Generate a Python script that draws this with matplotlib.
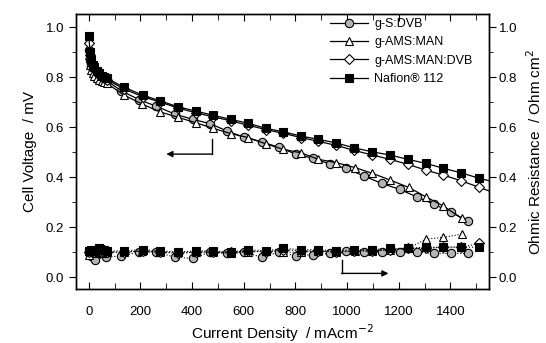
import matplotlib
matplotlib.use("Agg")
import matplotlib.pyplot as plt
from matplotlib.ticker import MultipleLocator

plt.rcParams['font.family'] = ['Liberation Sans', 'DejaVu Sans']

# ---- polarisation curves (cell voltage) ----
low_i = [0, 5, 10, 15, 20, 30, 40, 50, 60, 70]

nafion_i = low_i + [137, 208, 276, 346, 415, 482, 550, 618, 686, 753, 822, 889, 957,
                    1027, 1098, 1167, 1235, 1305, 1373, 1442, 1512, 1580]
nafion_v = [0.965, 0.90, 0.87, 0.85, 0.84, 0.825, 0.815, 0.805, 0.80, 0.795,
            0.759, 0.728, 0.705, 0.681, 0.664, 0.647, 0.631, 0.615, 0.595, 0.581,
            0.564, 0.551, 0.537, 0.517, 0.501, 0.488, 0.471, 0.455, 0.435, 0.417,
            0.395, 0.378]

amsmandvb_i = low_i + [137, 208, 276, 346, 415, 482, 550, 618, 686, 753, 822, 889, 957,
                       1027, 1098, 1167, 1235, 1305, 1373, 1442, 1512, 1580]
amsmandvb_v = [0.935, 0.89, 0.86, 0.845, 0.835, 0.82, 0.81, 0.80, 0.795, 0.79,
               0.752, 0.722, 0.70, 0.676, 0.657, 0.641, 0.625, 0.607, 0.590, 0.575,
               0.558, 0.543, 0.527, 0.507, 0.488, 0.471, 0.451, 0.428, 0.408, 0.385,
               0.359, 0.333]

sdvb_i = low_i + [126, 194, 262, 333, 402, 469, 536, 602, 669, 736, 802, 869, 934,
                  996, 1066, 1134, 1203, 1270, 1338, 1403, 1466]
sdvb_v = [0.91, 0.87, 0.85, 0.83, 0.82, 0.81, 0.80, 0.795, 0.79, 0.785,
          0.745, 0.71, 0.683, 0.652, 0.631, 0.614, 0.584, 0.559, 0.541, 0.519,
          0.492, 0.475, 0.452, 0.435, 0.404, 0.375, 0.351, 0.321, 0.291, 0.259,
          0.225]

amsman_i = low_i + [136, 207, 275, 346, 415, 482, 549, 617, 685, 753, 822, 889, 957,
                    1031, 1098, 1167, 1238, 1305, 1373, 1444]
amsman_v = [0.89, 0.85, 0.83, 0.815, 0.805, 0.795, 0.79, 0.785, 0.78, 0.775,
            0.728, 0.692, 0.661, 0.639, 0.617, 0.595, 0.574, 0.558, 0.533, 0.511,
            0.497, 0.471, 0.458, 0.438, 0.415, 0.388, 0.359, 0.321, 0.284, 0.235]

# ---- ohmic resistance ----
nafion_r_i = [0, 10, 20, 30, 40, 50, 60, 70, 137, 208, 276, 346, 415, 482, 550, 618,
              686, 753, 822, 889, 957, 1027, 1098, 1167, 1235, 1305, 1373, 1442, 1512]
nafion_r = [0.105, 0.11, 0.105, 0.11, 0.115, 0.11, 0.11, 0.105, 0.105, 0.11, 0.105,
            0.10, 0.105, 0.105, 0.10, 0.11, 0.105, 0.115, 0.11, 0.11, 0.105, 0.11,
            0.11, 0.115, 0.115, 0.12, 0.12, 0.12, 0.12]

amsmandvb_r_i = [0, 10, 20, 30, 40, 50, 60, 70, 137, 208, 276, 346, 415, 482, 550, 618,
                 686, 753, 822, 889, 957, 1027, 1098, 1167, 1235, 1305, 1373, 1442, 1512]
amsmandvb_r = [0.10, 0.105, 0.10, 0.105, 0.11, 0.105, 0.11, 0.10, 0.10, 0.105, 0.10,
               0.095, 0.10, 0.10, 0.10, 0.105, 0.10, 0.11, 0.105, 0.105, 0.10, 0.105,
               0.105, 0.11, 0.115, 0.115, 0.12, 0.12, 0.135]

sdvb_r_i = [0, 5, 10, 23, 66, 126, 194, 262, 333, 402, 469, 536, 602, 669, 736, 802,
            869, 934, 996, 1066, 1134, 1203, 1270, 1338, 1403, 1466]
sdvb_r = [0.10, 0.09, 0.085, 0.07, 0.08, 0.085, 0.10, 0.10, 0.08, 0.075, 0.10, 0.095,
          0.10, 0.08, 0.10, 0.085, 0.09, 0.095, 0.104, 0.10, 0.10, 0.10, 0.10, 0.095,
          0.095, 0.095]

amsman_r_i = [0, 10, 20, 30, 40, 50, 60, 70, 136, 207, 275, 346, 415, 482, 549, 617,
              685, 753, 822, 889, 957, 1031, 1098, 1167, 1238, 1305, 1373, 1444]
amsman_r = [0.09, 0.10, 0.10, 0.095, 0.10, 0.10, 0.095, 0.10, 0.10, 0.105, 0.10,
            0.10, 0.10, 0.10, 0.095, 0.10, 0.105, 0.10, 0.10, 0.105, 0.10, 0.105,
            0.105, 0.11, 0.115, 0.152, 0.159, 0.172]

labels = ["g-S:DVB", "g-AMS:MAN", "g-AMS:MAN:DVB", "Nafion\u00ae 112"]

fig = plt.figure(figsize=(5.46, 3.43), dpi=100)
ax = fig.add_axes([0.139, 0.157, 0.757, 0.802])

ms = 6
styles = [
    dict(marker='o', mfc='#b4b4b4', mec='black', ms=ms, mew=0.8),
    dict(marker='^', mfc='white', mec='black', ms=ms, mew=0.8),
    dict(marker='D', mfc='white', mec='black', ms=ms - 0.8, mew=0.8),
    dict(marker='s', mfc='black', mec='black', ms=ms, mew=0.8),
]
volt = [(sdvb_i, sdvb_v), (amsman_i, amsman_v), (amsmandvb_i, amsmandvb_v),
        (nafion_i, nafion_v)]
res = [(sdvb_r_i, sdvb_r), (amsman_r_i, amsman_r), (amsmandvb_r_i, amsmandvb_r),
       (nafion_r_i, nafion_r)]

handles = []
for (xi, yv), st, lab in zip(volt, styles, labels):
    h, = ax.plot(xi, yv, color='black', lw=0.9, label=lab, **st)
    handles.append(h)
for (xi, yr), st in zip(res, styles):
    ax.plot(xi, yr, color='black', lw=0.8, ls=':', **st)

ax.set_xlim(-50, 1550)
ax.set_ylim(-0.048, 1.052)

ax.xaxis.set_major_locator(MultipleLocator(200))
ax.xaxis.set_minor_locator(MultipleLocator(100))
ax.yaxis.set_major_locator(MultipleLocator(0.2))
ax.yaxis.set_minor_locator(MultipleLocator(0.1))
ax.yaxis.set_major_formatter(plt.FuncFormatter(lambda v, p: f"{v:.1f}"))

ax.tick_params(axis='x', which='both', direction='in', top=True, labelsize=9.5,
               pad=12)
ax.tick_params(axis='x', which='major', length=5)
ax.tick_params(axis='x', which='minor', length=4)
ax.tick_params(axis='y', which='both', direction='out', labelsize=9.5)
ax.tick_params(axis='y', which='major', length=5)
ax.tick_params(axis='y', which='minor', length=3)

ax2 = ax.twinx()
ax2.set_ylim(ax.get_ylim())
ax2.yaxis.set_major_locator(MultipleLocator(0.2))
ax2.yaxis.set_minor_locator(MultipleLocator(0.1))
ax2.yaxis.set_major_formatter(plt.FuncFormatter(lambda v, p: f"{v:.1f}"))
ax2.tick_params(axis='y', which='both', direction='out', labelsize=9.5, pad=2)
ax2.tick_params(axis='y', which='major', length=5)
ax2.tick_params(axis='y', which='minor', length=3)

for a in (ax, ax2):
    for sp in a.spines.values():
        sp.set_linewidth(1.0)

ax.set_xlabel("Current Density  / mAcm$^{-2}$", fontsize=11, labelpad=3)
ax.set_ylabel("Cell Voltage  / mV", fontsize=11, labelpad=6)
ax2.set_ylabel("Ohmic Resistance  / Ohm cm$^{2}$", fontsize=11, labelpad=6)

# arrows pointing each family of curves to its axis
ax.plot([478, 478], [0.551, 0.492], color='black', lw=1.0)
ax.annotate("", xy=(300, 0.492), xytext=(479, 0.492),
            arrowprops=dict(arrowstyle='-|>', color='black', lw=1.0,
                            mutation_scale=9, shrinkA=0, shrinkB=0))
ax.plot([979, 979], [0.068, 0.015], color='black', lw=1.0)
ax.annotate("", xy=(1160, 0.015), xytext=(978, 0.015),
            arrowprops=dict(arrowstyle='-|>', color='black', lw=1.0,
                            mutation_scale=9, shrinkA=0, shrinkB=0))

leg = ax.legend(handles=handles, loc='upper left', bbox_to_anchor=(0.615, 0.985),
                frameon=False, fontsize=9, handlelength=3.0, handletextpad=0.55,
                labelspacing=0.5, borderaxespad=0, borderpad=0)

fig.savefig("out.png", dpi=100)
